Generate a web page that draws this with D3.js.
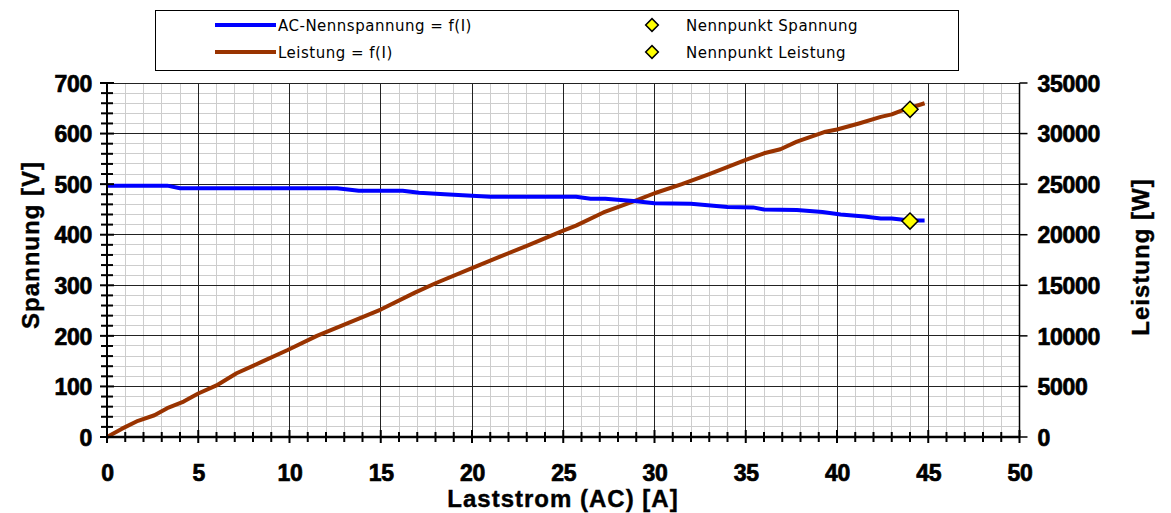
<!DOCTYPE html>
<html>
<head>
<meta charset="utf-8">
<script src="https://cdn.jsdelivr.net/npm/d3@7"></script>
<style>
  html, body { margin: 0; padding: 0; background: #fff; }
  svg { display: block; }
</style>
</head>
<body>
<svg id="chart" width="1171" height="513"></svg>
<script>
// ---- data ----
const currentV = [0, 3.3, 4, 12.6, 13.8, 16.2, 17.1, 18.5, 20, 21, 25.7, 26.5, 27.3, 29, 30, 32, 34, 35.4, 36, 37.8, 39.2, 40.2, 41.5, 42.4, 43, 44, 44.8];
const voltage  = [497, 497, 492, 492, 487, 487, 483, 480, 477, 475, 475, 471, 471, 466, 462, 461, 455, 454, 450, 449, 445, 440, 436, 432, 432, 428, 428];

const currentP = [0, 0.8, 1.7, 2.6, 3.3, 4.2, 5, 6, 7.1, 8.5, 9.9, 11.5, 13.8, 15, 16.9, 18, 20, 21.5, 23, 25, 25.7, 27.2, 29, 30, 31.5, 33, 35, 36, 36.9, 37.8, 39.3, 40, 41.2, 42.4, 43, 43.5, 44.8];
const power    = [0, 800, 1600, 2150, 2850, 3500, 4300, 5100, 6300, 7450, 8600, 10000, 11700, 12600, 14300, 15200, 16700, 17800, 18900, 20400, 20900, 22200, 23400, 24100, 25000, 26000, 27400, 28050, 28450, 29200, 30150, 30400, 31000, 31650, 31900, 32250, 33000];

const nennCurrent = [44];
const nennVoltage = [427];
const nennPower   = [32400];

const xTicks  = [0, 5, 10, 15, 20, 25, 30, 35, 40, 45, 50];
const yVTicks = [0, 100, 200, 300, 400, 500, 600, 700];
const yPTicks = [0, 5000, 10000, 15000, 20000, 25000, 30000, 35000];

const legendLines   = ["AC-Nennspannung = f(I)", "Leistung = f(I)"];
const legendPoints  = ["Nennpunkt Spannung", "Nennpunkt Leistung"];
const xTitle = "Laststrom (AC) [A]";
const yLeftTitle = "Spannung [V]";
const yRightTitle = "Leistung [W]";

// ---- layout ----
const L = 107, R = 1019.5, T = 83, B = 437;
const BLUE = "#0000ff", BROWN = "#993300";

const svg = d3.select("#chart");
const x  = d3.scaleLinear().domain([0, 50]).range([L, R]);
const yV = d3.scaleLinear().domain([0, 700]).range([B, T]);
const yP = d3.scaleLinear().domain([0, 35000]).range([B, T]);

const grid = svg.append("g");
// minor grid
grid.selectAll(".mx").data(d3.range(0, 51, 1).filter(v => v % 5 !== 0)).join("line")
  .attr("x1", d => x(d)).attr("x2", d => x(d)).attr("y1", T).attr("y2", B)
  .attr("stroke", "#cdcdcd").attr("stroke-width", 1).attr("shape-rendering", "crispEdges");
grid.selectAll(".my").data(d3.range(0, 701, 20).filter(v => v % 100 !== 0)).join("line")
  .attr("x1", L).attr("x2", R).attr("y1", d => yV(d)).attr("y2", d => yV(d))
  .attr("stroke", "#cdcdcd").attr("stroke-width", 1).attr("shape-rendering", "crispEdges");
// major grid
grid.selectAll(".Mx").data(xTicks.filter(v => v > 0 && v < 50)).join("line")
  .attr("x1", d => x(d)).attr("x2", d => x(d)).attr("y1", T).attr("y2", B)
  .attr("stroke", "#222").attr("stroke-width", 1).attr("shape-rendering", "crispEdges");
grid.selectAll(".My").data(yVTicks.filter(v => v > 0)).join("line")
  .attr("x1", L).attr("x2", R).attr("y1", d => yV(d)).attr("y2", d => yV(d))
  .attr("stroke", "#222").attr("stroke-width", 1).attr("shape-rendering", "crispEdges");

// lines
const lineV = d3.line().x((d, i) => x(currentV[i])).y(d => yV(d));
const lineP = d3.line().x((d, i) => x(currentP[i])).y(d => yP(d));
svg.append("path").datum(power).attr("d", lineP)
  .attr("fill", "none").attr("stroke", BROWN).attr("stroke-width", 4).attr("stroke-linejoin", "round");
svg.append("path").datum(voltage).attr("d", lineV)
  .attr("fill", "none").attr("stroke", BLUE).attr("stroke-width", 4).attr("stroke-linejoin", "round");

// diamonds
const diamond = d3.symbol().type(d3.symbolSquare).size(130);
function addDiamonds(yvals, yscale) {
  svg.selectAll(null).data(yvals).join("path")
    .attr("d", diamond)
    .attr("transform", (d, i) => `translate(${x(nennCurrent[i])},${yscale(d)}) rotate(45)`)
    .attr("fill", "#ffff00").attr("stroke", "#000").attr("stroke-width", 1.5);
}
addDiamonds(nennVoltage, yV);
addDiamonds(nennPower, yP);

// axes
const tickFont = "'Liberation Sans', Arial, sans-serif";
function styleAxis(g) {
  g.select(".domain").remove();
  g.selectAll(".tick line").remove();
  g.selectAll("text").attr("font-family", tickFont).attr("font-size", 23)
    .attr("font-weight", "bold").attr("fill", "#000")
    .attr("stroke", "#000").attr("stroke-width", 0.7).attr("letter-spacing", -0.3);
}
const axL = svg.append("g").attr("transform", `translate(${L},0)`)
  .call(d3.axisLeft(yV).tickValues(yVTicks).tickSize(0).tickPadding(15).tickFormat(d3.format("d")));
styleAxis(axL);
axL.selectAll("text").attr("dy", "0.36em");

const axR = svg.append("g").attr("transform", `translate(${R},0)`)
  .call(d3.axisRight(yP).tickValues(yPTicks).tickSize(0).tickPadding(18).tickFormat(d3.format("d")));
styleAxis(axR);
axR.selectAll("text").attr("dy", "0.36em");

const axB = svg.append("g").attr("transform", `translate(0,${B})`)
  .call(d3.axisBottom(x).tickValues(xTicks).tickSize(0).tickPadding(28).tickFormat(d3.format("d")));
styleAxis(axB);

// axis lines and ticks
svg.append("line").attr("x1", L).attr("x2", L).attr("y1", T).attr("y2", B)
  .attr("stroke", "#000").attr("stroke-width", 2);
svg.append("line").attr("x1", R).attr("x2", R).attr("y1", T).attr("y2", B)
  .attr("stroke", "#000").attr("stroke-width", 1.5);
svg.append("line").attr("x1", L).attr("x2", R).attr("y1", B).attr("y2", B)
  .attr("stroke", "#000").attr("stroke-width", 2.5);

svg.selectAll(null).data(d3.range(0, 701, 20)).join("line")
  .attr("x1", d => d % 100 === 0 ? L - 7 : L - 6).attr("x2", d => d % 100 === 0 ? L + 7 : L + 6)
  .attr("y1", d => yV(d)).attr("y2", d => yV(d))
  .attr("stroke", "#000").attr("stroke-width", 2);
svg.selectAll(null).data(d3.range(0, 51, 1)).join("line")
  .attr("x1", d => x(d)).attr("x2", d => x(d))
  .attr("y1", d => d % 5 === 0 ? B - 7 : B - 5).attr("y2", d => d % 5 === 0 ? B + 6 : B + 5)
  .attr("stroke", "#000").attr("stroke-width", 2);
svg.selectAll(null).data(yPTicks).join("line")
  .attr("x1", R).attr("x2", R + 8)
  .attr("y1", d => yP(d)).attr("y2", d => yP(d))
  .attr("stroke", "#000").attr("stroke-width", 1.5);

// axis titles
const titleAttrs = s => s.attr("font-family", tickFont).attr("font-size", 24).attr("font-weight", "bold")
  .attr("letter-spacing", 1).attr("text-anchor", "middle").attr("fill", "#000")
  .attr("stroke", "#000").attr("stroke-width", 0.4);
svg.append("text").text(xTitle).attr("x", 563).attr("y", 507).call(titleAttrs);
svg.append("text").text(yLeftTitle).attr("transform", "translate(39,245) rotate(-90)").call(titleAttrs);
svg.append("text").text(yRightTitle).attr("transform", "translate(1149,257) rotate(-90)").call(titleAttrs);

// legend
const lg = svg.append("g");
lg.append("rect").attr("x", 155.5).attr("y", 10.5).attr("width", 803).attr("height", 60)
  .attr("fill", "#fff").attr("stroke", "#000").attr("stroke-width", 1);
const rows = [25, 52];
const legFont = "'DejaVu Sans', Verdana, sans-serif";
lg.selectAll(null).data(legendLines).join("line")
  .attr("x1", 215).attr("x2", 276).attr("y1", (d, i) => rows[i]).attr("y2", (d, i) => rows[i])
  .attr("stroke", (d, i) => i === 0 ? BLUE : BROWN).attr("stroke-width", 4);
lg.selectAll(null).data(legendLines).join("text")
  .attr("x", 278).attr("y", (d, i) => rows[i] + 5.5).text(d => d)
  .attr("font-family", legFont).attr("font-size", 15).attr("letter-spacing", 0.5).attr("fill", "#000");
const legDiamond = d3.symbol().type(d3.symbolSquare).size(80);
lg.selectAll(null).data(legendPoints).join("path")
  .attr("d", legDiamond)
  .attr("transform", (d, i) => `translate(652,${rows[i]}) rotate(45)`)
  .attr("fill", "#ffff00").attr("stroke", "#000").attr("stroke-width", 1.5);
lg.selectAll(null).data(legendPoints).join("text")
  .attr("x", 686).attr("y", (d, i) => rows[i] + 5.5).text(d => d)
  .attr("font-family", legFont).attr("font-size", 15).attr("letter-spacing", 0.5).attr("fill", "#000");
</script>
</body>
</html>
